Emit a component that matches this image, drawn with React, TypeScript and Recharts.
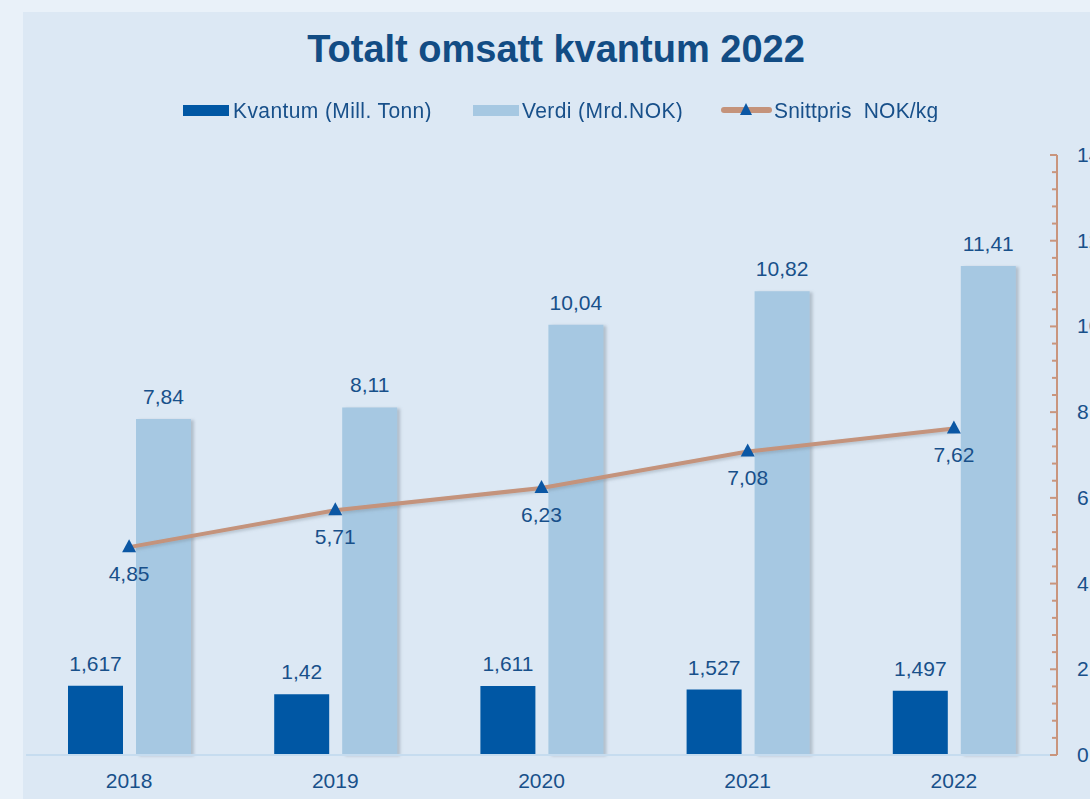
import { ComposedChart, Bar, Line, XAxis, YAxis, LabelList } from 'recharts';

const years = ['2018', '2019', '2020', '2021', '2022'];
const kvantum = [1.617, 1.42, 1.611, 1.527, 1.497];
const verdi = [7.84, 8.11, 10.04, 10.82, 11.41];
const snittpris = [4.85, 5.71, 6.23, 7.08, 7.62];
const axisTicks = Array.from({ length: 36 }, (_, i) => +(i * 0.4).toFixed(1));

const data = years.map((year, i) => ({
  year,
  kvantum: kvantum[i],
  verdi: verdi[i],
  snittpris: snittpris[i],
}));

const textColor = '#18508a';
const font = '"Liberation Sans", Arial, sans-serif';
const fmt = (v: any) => String(v).replace('.', ',');

function RightTick(props: any) {
  const { x, y, payload } = props;
  const v = payload.value;
  const major = Number.isInteger(v) && v % 2 === 0;
  return (
    <g>
      <line x1={x - (major ? 7 : 5)} y1={y} x2={x} y2={y} stroke="#c9957d" strokeWidth={2} />
      {major && (
        <text x={x + 20} y={y} dy={7} fill={textColor} fontSize={21} fontFamily={font}>
          {v}
        </text>
      )}
    </g>
  );
}

function Triangle(props: any) {
  const { cx, cy } = props;
  if (cx == null || cy == null) return null;
  return <path d={`M${cx},${cy - 8} L${cx + 7},${cy + 5} L${cx - 7},${cy + 5} Z`} fill="#0b57a4" />;
}

function Legend() {
  const item = { position: 'absolute' as const, top: 98, fontSize: 21, color: textColor, fontFamily: font, lineHeight: '24px', transform: 'scaleY(1.08)', transformOrigin: 'left center' };
  return (
    <>
      <div style={{ position: 'absolute', left: 183, top: 105, width: 46, height: 11, background: '#0057a4' }} />
      <div style={{ ...item, left: 233, letterSpacing: 0.4 }}>Kvantum (Mill. Tonn)</div>
      <div style={{ position: 'absolute', left: 473, top: 105, width: 46, height: 11, background: '#a6c8e2' }} />
      <div style={{ ...item, left: 522, letterSpacing: 0.4 }}>Verdi (Mrd.NOK)</div>
      <div style={{ position: 'absolute', left: 721, top: 107, width: 51, height: 6, background: '#c4937b', borderRadius: 3 }} />
      <svg style={{ position: 'absolute', left: 738, top: 101 }} width={16} height={16}>
        <path d="M8,2 L14,14 L2,14 Z" fill="#0b57a4" />
      </svg>
      <div style={{ ...item, left: 774, letterSpacing: 0.2 }}>Snittpris&nbsp; NOK/kg</div>
    </>
  );
}

export default function App() {
  return (
    <div style={{ position: 'absolute', left: 0, top: 0, width: 1090, height: 799, background: '#e9f1f9', overflow: 'hidden' }}>
      <div style={{ position: 'absolute', left: 23, top: 12, right: 0, bottom: 0, background: '#dce8f4' }} />
      <div
        style={{
          position: 'absolute',
          left: 0,
          width: 1112,
          top: 27,
          textAlign: 'center',
          fontSize: 38,
          lineHeight: '44px',
          fontWeight: 'bold',
          color: '#124c84',
          fontFamily: font,
        }}
      >
        Totalt omsatt kvantum 2022
      </div>
      <Legend />
      <div style={{ position: 'absolute', left: 0, top: 0 }}>
        <ComposedChart
          width={1090}
          height={799}
          data={data}
          margin={{ top: 155, right: 0, left: 26, bottom: 0 }}
          barSize={55}
          barGap={13}
        >
          <defs>
            <filter id="barShadow" x="-20%" y="-5%" width="150%" height="115%">
              <feDropShadow dx={3} dy={1} stdDeviation={1.5} floodColor="#7f8c99" floodOpacity={0.45} />
            </filter>
            <filter id="lineShadow" x="-5%" y="-20%" width="110%" height="150%">
              <feDropShadow dx={1} dy={2} stdDeviation={1.5} floodColor="#6d7b88" floodOpacity={0.35} />
            </filter>
          </defs>
          <XAxis
            dataKey="year"
            height={44}
            tickLine={false}
            axisLine={{ stroke: '#c6dcef', strokeWidth: 2 }}
            tickMargin={12}
            tick={{ fill: textColor, fontSize: 21, fontFamily: font }}
          />
          <YAxis
            yAxisId="r"
            orientation="right"
            width={33}
            domain={[0, 14]}
            ticks={axisTicks}
            interval={0}
            tickSize={0}
            tickMargin={0}
            tickLine={false}
            axisLine={{ stroke: '#c9957d', strokeWidth: 2 }}
            tick={<RightTick />}
          />
          <Bar yAxisId="r" dataKey="kvantum" fill="#0057a4" isAnimationActive={false}>
            <LabelList
              dataKey="kvantum"
              position="top"
              offset={15}
              formatter={fmt}
              fill={textColor}
              fontSize={21}
              fontFamily={font}
            />
          </Bar>
          <Bar yAxisId="r" dataKey="verdi" fill="#a6c8e2" filter="url(#barShadow)" isAnimationActive={false}>
            <LabelList
              dataKey="verdi"
              position="top"
              offset={15}
              formatter={fmt}
              fill={textColor}
              fontSize={21}
              fontFamily={font}
            />
          </Bar>
          <Line
            yAxisId="r"
            dataKey="snittpris"
            type="linear"
            stroke="#c4937b"
            strokeWidth={4}
            filter="url(#lineShadow)"
            dot={<Triangle />}
            activeDot={false}
            isAnimationActive={false}
          >
            <LabelList
              dataKey="snittpris"
              position="bottom"
              offset={19}
              formatter={fmt}
              fill={textColor}
              fontSize={21}
              fontFamily={font}
            />
          </Line>
        </ComposedChart>
      </div>
    </div>
  );
}
